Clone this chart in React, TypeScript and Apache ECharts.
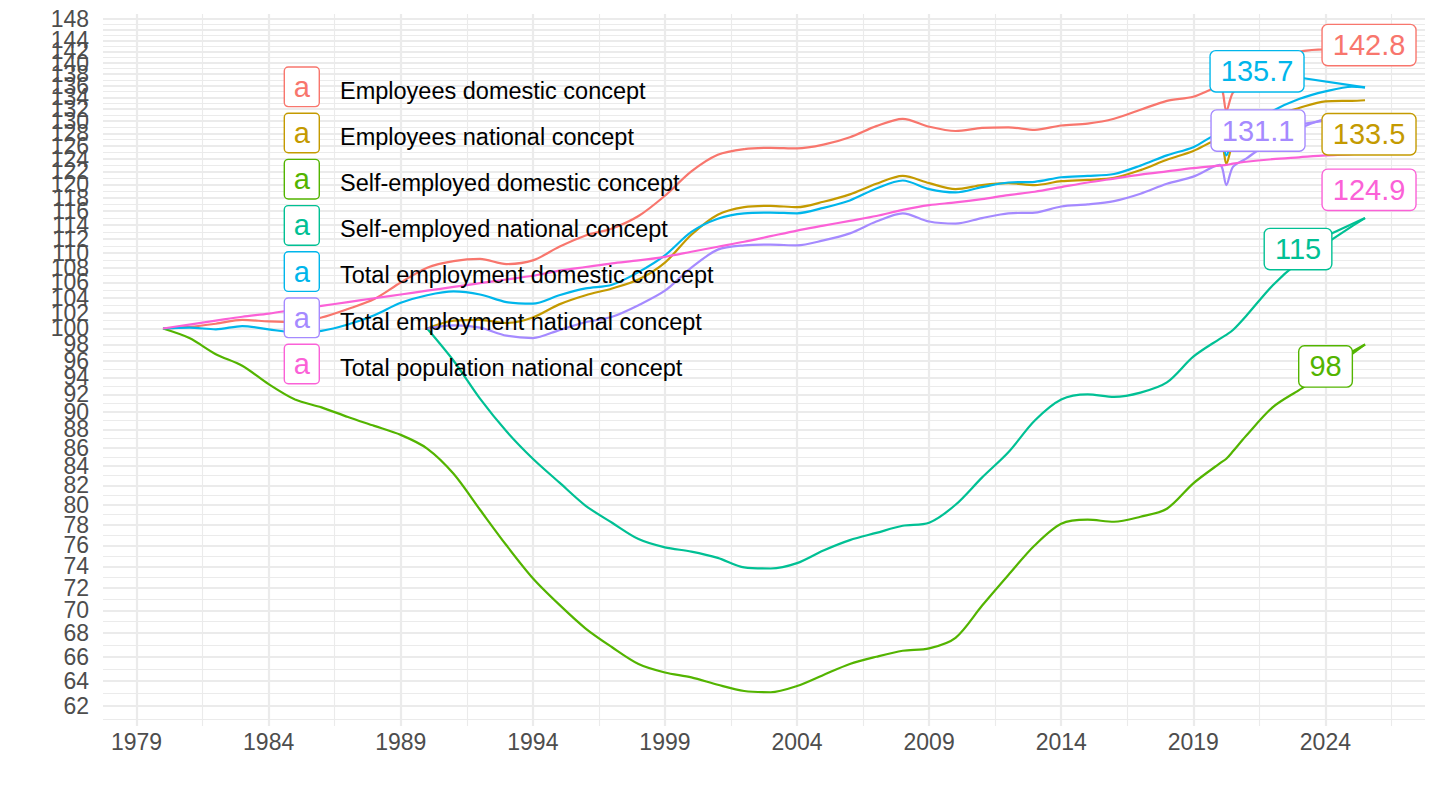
import React, { useEffect, useRef } from "react";
import * as echarts from "echarts";

// ---- data (index, 1980 = 100; national series 1990 = 100) ----
const years = [
  1980, 1981, 1982, 1983, 1984, 1985, 1986, 1987, 1988, 1989,
  1990, 1991, 1992, 1993, 1994, 1995, 1996, 1997, 1998, 1999,
  2000, 2001, 2002, 2003, 2004, 2005, 2006, 2007, 2008, 2009,
  2010, 2011, 2012, 2013, 2014, 2015, 2016, 2017, 2018, 2019,
  2020, 2020.25, 2020.5, 2021, 2022, 2023, 2024, 2025, 2025.5,
];

const seriesNames = [
  "Employees domestic concept",
  "Employees national concept",
  "Self-employed domestic concept",
  "Self-employed national concept",
  "Total employment domestic concept",
  "Total employment national concept",
  "Total population national concept",
];

const employeesDomestic = [
  100, 100.2, 100.6, 101.1, 100.9, 100.8, 101.4, 102.5, 103.8, 106.0,
  108.0, 108.9, 109.2, 108.5, 109.0, 110.9, 112.5, 113.5, 115.3, 118.3,
  122.0, 124.6, 125.5, 125.7, 125.6, 126.2, 127.4, 129.2, 130.4, 129.1,
  128.4, 128.9, 129.0, 128.6, 129.3, 129.6, 130.4, 131.9, 133.4, 134.1,
  135.8, 131.7, 134.8, 136.5, 139.3, 141.9, 142.4, 142.7, 142.8,
];

const employeesNational = [
  null, null, null, null, null, null, null, null, null, null,
  100, 101.0, 101.1, 100.7, 101.4, 103.1, 104.3, 105.2, 106.4, 108.7,
  112.6, 115.5, 116.6, 116.8, 116.6, 117.4, 118.5, 120.1, 121.3, 120.2,
  119.3, 119.9, 120.2, 119.9, 120.5, 120.7, 121.0, 122.2, 123.8, 125.2,
  127.1, 123.2, 126.3, 128.4, 130.8, 132.2, 133.3, 133.4, 133.5,
];

const selfEmployedDomestic = [
  100, 98.8, 96.8, 95.4, 93.2, 91.4, 90.5, 89.4, 88.4, 87.4,
  85.9, 83.2, 79.5, 76.0, 72.9, 70.5, 68.4, 66.8, 65.4, 64.7,
  64.3, 63.7, 63.2, 63.1, 63.6, 64.5, 65.4, 66.0, 66.5, 66.7,
  67.6, 70.4, 73.2, 76.0, 78.1, 78.5, 78.3, 78.8, 79.6, 82.2,
  84.3, 84.8, 85.6, 87.3, 90.5, 92.5, 94.5, 96.8, 98,
];

const selfEmployedNational = [
  null, null, null, null, null, null, null, null, null, null,
  100, 96.0, 91.5, 87.8, 84.8, 82.3, 79.9, 78.2, 76.6, 75.8,
  75.4, 74.8, 73.9, 73.8, 74.3, 75.5, 76.5, 77.2, 77.9, 78.2,
  80.0, 82.8, 85.5, 89.0, 91.4, 92.0, 91.7, 92.2, 93.4, 96.5,
  98.7, 99.2, 99.8, 101.6, 105.6, 108.8, 111.3, 113.8, 115,
];

const totalEmploymentDomestic = [
  100, 100.1, 99.9, 100.3, 99.9, 99.5, 99.7, 100.5, 101.7, 103.3,
  104.3, 104.8, 104.4, 103.4, 103.2, 104.3, 105.2, 105.7, 107.4, 109.7,
  113.0, 114.9, 115.7, 115.8, 115.7, 116.5, 117.6, 119.4, 120.6, 119.3,
  118.8, 119.6, 120.3, 120.4, 121.1, 121.3, 121.6, 122.9, 124.5, 125.8,
  128.0, 124.5, 127.0, 128.9, 131.7, 133.7, 135.0, 135.8, 135.7,
];

const totalEmploymentNational = [
  null, null, null, null, null, null, null, null, null, null,
  100, 100.4, 100.1, 99.1, 98.8, 99.8, 100.8, 101.5, 103.0, 104.9,
  108.0, 110.5, 111.1, 111.2, 111.1, 111.8, 112.8, 114.5, 115.7, 114.5,
  114.2, 115.0, 115.7, 115.8, 116.7, 117.0, 117.5, 118.6, 120.1, 121.2,
  123.0, 119.9, 122.7, 124.0, 126.9, 128.8, 130.4, 131.0, 131.1,
];

const totalPopulation = [
  100, 100.5, 101.0, 101.5, 101.9, 102.4, 102.9, 103.4, 103.9, 104.4,
  104.9, 105.4, 105.9, 106.4, 106.9, 107.6, 108.1, 108.6, 109.0, 109.5,
  110.2, 110.9, 111.6, 112.4, 113.2, 113.9, 114.6, 115.3, 116.2, 116.9,
  117.3, 117.8, 118.4, 118.9, 119.6, 120.3, 120.9, 121.5, 122.0, 122.5,
  122.9, 123.0, 123.2, 123.5, 123.9, 124.2, 124.5, 124.7, 124.9,
];

const seriesValues = [
  employeesDomestic,
  employeesNational,
  selfEmployedDomestic,
  selfEmployedNational,
  totalEmploymentDomestic,
  totalEmploymentNational,
  totalPopulation,
];

const xTickLabels = [1979, 1984, 1989, 1994, 1999, 2004, 2009, 2014, 2019, 2024];
const xMinorBreaks = [1981.5, 1986.5, 1991.5, 1996.5, 2001.5, 2006.5, 2011.5, 2016.5, 2021.5, 2026.5];
const yTickLabels = [
  62, 64, 66, 68, 70, 72, 74, 76, 78, 80, 82, 84, 86, 88, 90, 92, 94, 96, 98, 100,
  102, 104, 106, 108, 110, 112, 114, 116, 118, 120, 122, 124, 126, 128, 130, 132,
  134, 136, 138, 140, 142, 144, 146, 148,
];
const yMinorBreaks = [
  61, 63, 65, 67, 69, 71, 73, 75, 77, 79, 81, 83, 85, 87, 89, 91, 93, 95, 97, 99,
  101, 103, 105, 107, 109, 111, 113, 115, 117, 119, 121, 123, 125, 127, 129, 131,
  133, 135, 137, 139, 141, 143, 145, 147,
];

// ---- styling ----
const COLORS = ["#F8766D", "#C49A00", "#53B400", "#00C094", "#00B6EB", "#A58AFF", "#FB61D7"];
const FONT = '"Liberation Sans", Arial, Helvetica, sans-serif';
const GRID_COLOR = "#EBEBEB";
const X_MIN = 1977.73;
const X_MAX = 2027.77;
const Y_MIN = 60.46;
const Y_MAX = 148.9;
// label box centre offsets (px) from each series' last point, ggrepel-like placement
const LABEL_OFFSETS: number[][] = [[4, -2], [4, 34], [-39.5, 22], [-67, 31], [-108, -16], [-107, 16], [4, 37]];
const LABEL_SEGMENT = [false, false, true, true, true, true, false];
const LEGEND_X = 284.3;
const LEGEND_TOP = 86.8;
const LEGEND_GAP = 46.2;

function seriesPoints(vals: (number | null)[]) {
  const pts: number[][] = [];
  vals.forEach((v, i) => {
    if (v != null) pts.push([years[i], v]);
  });
  return pts;
}

export default function App() {
  const ref = useRef<HTMLDivElement>(null);

  useEffect(() => {
    if (!ref.current) return;
    const chart = echarts.init(ref.current, undefined, { renderer: "svg" });

    const legendGraphics: any[] = [];
    seriesNames.forEach((name, i) => {
      const cy = LEGEND_TOP + LEGEND_GAP * i;
      legendGraphics.push({
        type: "rect",
        z: 50,
        shape: { x: LEGEND_X, y: cy - 19.8, width: 35, height: 39.6, r: 4 },
        style: { fill: "#ffffff", stroke: COLORS[i], lineWidth: 1.4 },
      });
      legendGraphics.push({
        type: "text",
        z: 51,
        x: LEGEND_X + 17.5,
        y: cy,
        style: {
          text: "a",
          fill: COLORS[i],
          font: `29px ${FONT}`,
          align: "center",
          verticalAlign: "middle",
        },
      });
      legendGraphics.push({
        type: "text",
        z: 51,
        x: 340,
        y: cy + 3.8,
        style: {
          text: name,
          fill: "#000000",
          font: `23.5px ${FONT}`,
          align: "left",
          verticalAlign: "middle",
        },
      });
    });

    const axisCommon = {
      axisLine: { show: false },
      axisTick: { show: false },
    };

    const option: any = {
      animation: false,
      backgroundColor: "#ffffff",
      grid: { left: 103, right: 15, top: 14, bottom: 84, containLabel: false },
      xAxis: [
        {
          type: "value",
          min: X_MIN,
          max: X_MAX,
          ...axisCommon,
          axisTick: { show: false, customValues: xTickLabels },
          axisLabel: {
            customValues: xTickLabels,
            showMinLabel: true,
            showMaxLabel: true,
            color: "#4D4D4D",
            fontSize: 23,
            fontFamily: FONT,
            margin: 4,
            formatter: (v: number) => String(Math.round(v)),
          },
          splitLine: { show: true, lineStyle: { color: GRID_COLOR, width: 2.2 } },
        },
        {
          type: "value",
          min: X_MIN,
          max: X_MAX,
          position: "bottom",
          ...axisCommon,
          axisTick: { show: false, customValues: xMinorBreaks },
          axisLabel: { show: false, customValues: xMinorBreaks },
          splitLine: { show: true, lineStyle: { color: GRID_COLOR, width: 1.1 } },
        },
      ],
      yAxis: [
        {
          type: "log",
          logBase: 10,
          min: Y_MIN,
          max: Y_MAX,
          ...axisCommon,
          axisTick: { show: false, customValues: yTickLabels },
          axisLabel: {
            customValues: yTickLabels,
            showMinLabel: true,
            showMaxLabel: true,
            hideOverlap: false,
            color: "#4D4D4D",
            fontSize: 23,
            fontFamily: FONT,
            margin: 14,
            formatter: (v: number) => String(Math.round(v)),
          },
          splitLine: { show: true, lineStyle: { color: GRID_COLOR, width: 2.2 } },
        },
        {
          type: "log",
          logBase: 10,
          min: Y_MIN,
          max: Y_MAX,
          position: "left",
          ...axisCommon,
          axisTick: { show: false, customValues: yMinorBreaks },
          axisLabel: { show: false, customValues: yMinorBreaks },
          splitLine: { show: true, lineStyle: { color: GRID_COLOR, width: 1.1 } },
        },
      ],
      series: seriesNames.map((name, i) => ({
        name,
        type: "line",
        xAxisIndex: 0,
        yAxisIndex: 0,
        data: seriesPoints(seriesValues[i]),
        showSymbol: false,
        symbol: "none",
        smooth: 0.3,
        lineStyle: { color: COLORS[i], width: 2.2 },
        itemStyle: { color: COLORS[i] },
        z: 3 + i,
      })),
      graphic: legendGraphics,
    };

    chart.setOption(option);

    // end-of-line value labels, positioned from the series' last point via the chart's scales
    const labelGraphics: any[] = [];
    const boxGraphics: any[] = [];
    seriesValues.forEach((vals, i) => {
      let last = vals.length - 1;
      while (last >= 0 && vals[last] == null) last--;
      const v = vals[last] as number;
      const p = chart.convertToPixel({ xAxisIndex: 0, yAxisIndex: 0 }, [years[last], v]) as number[];
      if (!p) return;
      const cx = p[0] + LABEL_OFFSETS[i][0];
      const cy = p[1] + LABEL_OFFSETS[i][1];
      if (LABEL_SEGMENT[i]) {
        labelGraphics.push({
          type: "line",
          z: 60,
          shape: { x1: p[0], y1: p[1], x2: cx, y2: cy },
          style: { stroke: COLORS[i], lineWidth: 2.2 },
        });
      }
      boxGraphics.push({
        type: "text",
        z: 70,
        x: cx,
        y: cy,
        style: {
          text: String(v),
          fill: COLORS[i],
          font: `29px ${FONT}`,
          lineHeight: 29,
          align: "center",
          verticalAlign: "middle",
          backgroundColor: "#ffffff",
          borderColor: COLORS[i],
          borderWidth: 1.4,
          borderRadius: 5,
          padding: [5.5, 10],
        },
      });
    });

    chart.setOption({ graphic: [...legendGraphics, ...labelGraphics, ...boxGraphics] });

    return () => chart.dispose();
  }, []);

  return (
    <div
      ref={ref}
      style={{ position: "fixed", left: 0, top: 0, width: 1440, height: 810, background: "#fff" }}
    />
  );
}
